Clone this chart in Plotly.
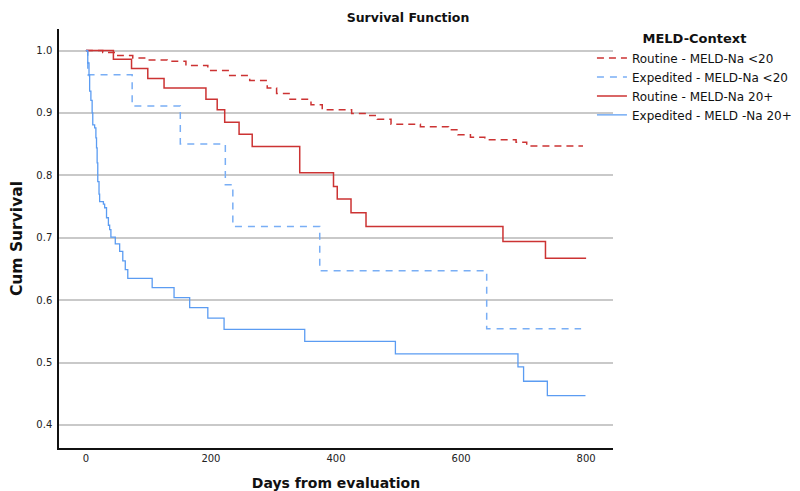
import plotly.graph_objects as go

# ---- data ----
series_names = [
    "Routine - MELD-Na <20",
    "Expedited - MELD-Na <20",
    "Routine - MELD-Na 20+",
    "Expedited - MELD -Na 20+",
]

routine_lt20_days = [0, 27, 51, 75, 100, 130, 160, 195, 230, 262, 290, 305, 325, 360, 378,
                     425, 450, 466, 488, 535, 580, 595, 615, 638, 688, 705, 795]
routine_lt20_surv = [1.0, 0.997, 0.992, 0.988, 0.985, 0.983, 0.976, 0.968, 0.960, 0.952, 0.940,
                     0.931, 0.922, 0.913, 0.905, 0.899, 0.896, 0.890, 0.882, 0.878, 0.873,
                     0.865, 0.861, 0.857, 0.853, 0.847, 0.847]

expedited_lt20_days = [0, 3, 74, 151, 223, 235, 374, 641, 792]
expedited_lt20_surv = [1.0, 0.961, 0.911, 0.850, 0.785, 0.718, 0.647, 0.554, 0.554]

routine_20p_days = [0, 44, 73, 99, 125, 192, 210, 222, 245, 266, 342, 396, 402, 424, 448,
                    667, 735, 800]
routine_20p_surv = [1.0, 0.986, 0.971, 0.955, 0.940, 0.922, 0.905, 0.885, 0.866, 0.846, 0.804,
                    0.782, 0.762, 0.740, 0.718, 0.694, 0.667, 0.667]

expedited_20p_days = [0, 3, 5, 6, 8, 10, 11, 14, 16, 17, 18, 19, 21, 22, 28, 30, 33, 36, 38,
                      40, 47, 54, 59, 63, 67, 106, 141, 166, 195, 221, 350, 495, 691, 700,
                      738, 799]
expedited_20p_surv = [1.0, 0.98, 0.96, 0.935, 0.92, 0.90, 0.881, 0.876, 0.86, 0.844, 0.82,
                      0.79, 0.77, 0.758, 0.754, 0.748, 0.732, 0.72, 0.713, 0.701, 0.690, 0.678,
                      0.663, 0.649, 0.635, 0.620, 0.604, 0.588, 0.571, 0.553, 0.534, 0.514,
                      0.493, 0.470, 0.447, 0.447]

x_ticks = [0, 200, 400, 600, 800]
y_ticks = [0.4, 0.5, 0.6, 0.7, 0.8, 0.9, 1.0]

# ---- styles ----
RED = "#cc3333"
BLUE = "#5b9cf2"
BLUE_D = "#79aef5"
styles = [
    dict(color=RED, width=1.5, dash="7px,5px"),
    dict(color=BLUE_D, width=1.5, dash="7px,6px"),
    dict(color=RED, width=1.5),
    dict(color=BLUE, width=1.3),
]
data = [
    (routine_lt20_days, routine_lt20_surv),
    (expedited_lt20_days, expedited_lt20_surv),
    (routine_20p_days, routine_20p_surv),
    (expedited_20p_days, expedited_20p_surv),
]

fig = go.Figure()
for name, (xd, yd), st in zip(series_names, data, styles):
    fig.add_trace(go.Scatter(x=xd, y=yd, mode="lines", name=name,
                             line=dict(shape="hv", **st)))

FONT = "DejaVu Sans"
fig.update_layout(
    width=800, height=491,
    margin=dict(l=51, r=195, t=21, b=51, autoexpand=False),
    paper_bgcolor="white", plot_bgcolor="white",
    font=dict(family=FONT, color="#222"),
    title=dict(text="<b>Survival Function</b>", x=0.5, xanchor="center",
               y=0.981, yanchor="middle", font=dict(size=12.5, color="#111")),
    showlegend=True,
    legend=dict(
        x=0.962, xanchor="left", y=1.006, yanchor="top",
        title=dict(text="<b>MELD-Context</b>", side="top center",
                   font=dict(size=13, color="#111")),
        font=dict(size=12, color="#111"),
        itemwidth=30, tracegroupgap=0, bgcolor="rgba(0,0,0,0)",
    ),
    xaxis=dict(
        range=[-43, 843], tickvals=x_ticks, showgrid=False, zeroline=False,
        showline=True, linecolor="#111", linewidth=1.5, ticks="",
        tickfont=dict(size=10, color="#222"),
        title=dict(text="<b>Days from evaluation</b>", font=dict(size=14, color="#111"),
                   standoff=15),
    ),
    yaxis=dict(
        range=[0.363, 1.0345], tickvals=y_ticks, tickformat=".1f",
        showgrid=True, gridcolor="#c9c9c9", gridwidth=1.5, zeroline=False,
        showline=True, linecolor="#111", linewidth=1.5, ticks="",
        tickfont=dict(size=10, color="#222"), ticklabelstandoff=3,
        title=dict(text="<b>Cum Survival</b>", font=dict(size=15.5, color="#111"),
                   standoff=11),
    ),
)

fig.write_html("out.html")
